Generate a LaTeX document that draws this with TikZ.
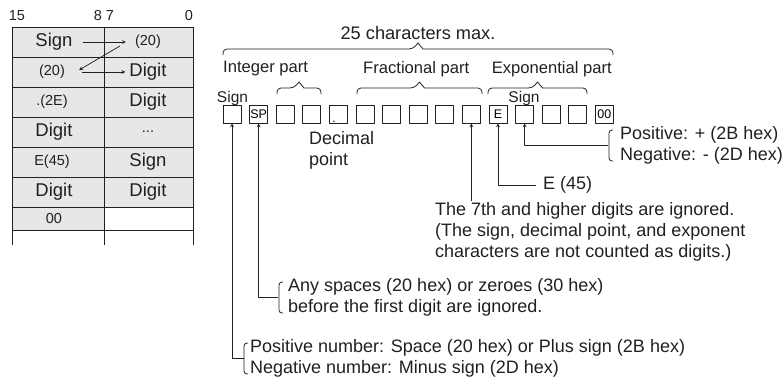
\documentclass[tikz,border=0pt]{standalone}
\usepackage{fontspec}
\setmainfont{Liberation Sans}
\usetikzlibrary{positioning}
\definecolor{ink}{HTML}{231F20}
\definecolor{cellgray}{HTML}{E6E7E8}
\tikzset{
  tline/.style={ink, line width=1pt},
  cellbig/.style={inner sep=0pt, text=ink, font=\fontsize{18.5}{21}\selectfont},
  cellsm/.style={inner sep=0pt, text=ink, font=\fontsize{14.5}{17}\selectfont},
  chbox/.style={draw=ink, line width=0.8pt, minimum width=18pt, minimum height=18pt, inner sep=0pt, font=\fontsize{12.5}{14}\selectfont},
  brace/.style={ink, line width=0.8pt},
  lead/.style={ink, line width=0.7pt, ->},
  part/.style={inner sep=0pt, text=ink, anchor=west, font=\fontsize{16.6}{20}\selectfont},
  note/.style={inner sep=0pt, text=ink, align=left, anchor=west, font=\fontsize{18}{21}\selectfont}
}
% ngoặc nhọn phía trên: x trái, x phải, y đỉnh, y chân
\newcommand{\capbrace}[4]{%
  \draw[brace] (#1,#4) [rounded corners=4pt] -- (#1,#3+6) -- ({(#1+#2)/2-5},#3+6) [sharp corners] -- ({(#1+#2)/2},#3) -- ({(#1+#2)/2+5},#3+6) [rounded corners=4pt] -- (#2,#3+6) -- (#2,#4);}
% ngoặc bên trái của chú thích: x, y trên, y dưới
\newcommand{\sidebrack}[3]{%
  \draw[brace, rounded corners=3pt] (#1+4,#2) -- (#1,#2) -- (#1,#3) -- (#1+4,#3);}

\begin{document}
\begin{tikzpicture}[>=stealth, line join=round, x=1pt, y=-1pt]
	\useasboundingbox (0,0) rectangle (784,381);
	% Bảng
	\fill[cellgray] (12,27) rectangle (193,207);
	\fill[cellgray] (12,207) rectangle (104,230);
	\foreach \y in {27,57,...,207}
		\draw[tline] (12,\y) -- (193,\y);
	\draw[tline] (12,230) -- (193,230);
	\foreach \x in {12,104,193}
		\draw[tline] (\x,27) -- (\x,245);
	% Số bit
	\node[cellsm] (bit15) at (17,16) {15};
	\node[cellsm] (bit8) at (98,16) {8};
	\node[cellsm] (bit7) at (110,16) {7};
	\node[cellsm] (bit0) at (189,16) {0};
	% Nội dung ô
	\node[cellbig] (sgnL) at (54,42) {Sign};
	\node[cellsm] (spR) at (148,42) {(20)};
	\node[cellsm] (spL) at (52,72) {(20)};
	\node[cellbig] (digR) at (148,72) {Digit};
	\node[cellsm] (dotL) at (52,102) {.(2E)};
	\node[cellbig] (digR2) at (148,102) {Digit};
	\node[cellbig] (digL) at (54,132) {Digit};
	\node[cellsm] (moreR) at (148,132) {...};
	\node[cellsm] (expL) at (52,162) {E(45)};
	\node[cellbig] (sgnR) at (148,162) {Sign};
	\node[cellbig] (digL2) at (54,192) {Digit};
	\node[cellbig] (digR3) at (148,192) {Digit};
	\node[cellsm] (endL) at (54,218.5) {00};
	% Mũi tên trong bảng
	\draw[lead] ([xshift=10pt]sgnL.east) -- ([xshift=-9pt]spR.west);
	\draw[lead] ([xshift=-15pt,yshift=-4pt]spR.west) -- ([xshift=14pt,yshift=2pt]spL.east);
	\draw[lead] ([xshift=17pt]spL.east) -- ([xshift=-4pt]digR.west);
	% Các ô ký tự
	\foreach \k in {0,...,14}
		\node[chbox] (b\k) at ({232+26.6*\k},114) {};
	\node[chbox, draw=none] (sp) at (b1) {SP};
	\node[chbox, draw=none, minimum size=0pt, anchor=south west] (pt) at ([shift={(3pt,1pt)}]b4.south west) {.};
	\node[chbox, draw=none] (ee) at (b10) {E};
	\node[chbox, draw=none] (zz) at (b14) {00};
	% Dấu ngoặc và nhãn
	\capbrace{223}{613}{43}{55}
	\node[cellbig, font=\fontsize{18.2}{21}\selectfont] (total) at (418,33) {25 characters max.};
	\node[part] (intp) at (223,69) {Integer part};
	\node[part] (frcp) at (363,69) {Fractional part};
	\node[part, anchor=east] (expp) at (612,69) {Exponential part};
	\capbrace{277}{321}{82}{94}
	\capbrace{357}{482}{82}{94}
	\capbrace{488}{587}{82}{94}
	\node[cellsm, font=\fontsize{15.5}{18}\selectfont, anchor=base] (sgn1) at (232.5,102) {Sign};
	\node[cellsm, font=\fontsize{15.5}{18}\selectfont, anchor=base] (sgn2) at (524,102) {Sign};
	\node[note] (decp) at (309,150) {Decimal\\point};
	% Chú thích
	\node[note] (esgn) at (620,145) {Positive: + (2B hex)\\Negative: - (2D hex)};
	\sidebrack{609}{130}{161}
	\draw[lead] ([xshift=-12pt]esgn.west) -| (b11.south);
	\node[note] (elet) at (543,185) {E (45)};
	\draw[lead] ([xshift=-7pt]elet.west) -| (b10.south);
	\node[note] (dig7) at (435,232) {The 7th and higher digits are ignored.\\(The sign, decimal point, and exponent\\characters are not counted as digits.)};
	\coordinate (t7) at (b9.south |- 0,201);
	\draw[lead] (t7) -- (b9.south);
	\node[note] (lead0) at (288,297) {Any spaces (20 hex) or zeroes (30 hex)\\before the first digit are ignored.};
	\sidebrack{279}{282}{313}
	\draw[lead] ([xshift=-10pt]lead0.west) -| (b1.south);
	\node[note] (nsgn) at (250,358) {Positive number: Space (20 hex) or Plus sign (2B hex)\\Negative number: Minus sign (2D hex)};
	\sidebrack{244}{343}{374}
	\draw[lead] ([xshift=-6pt]nsgn.west) -| (b0.south);
\end{tikzpicture}
\end{document}
